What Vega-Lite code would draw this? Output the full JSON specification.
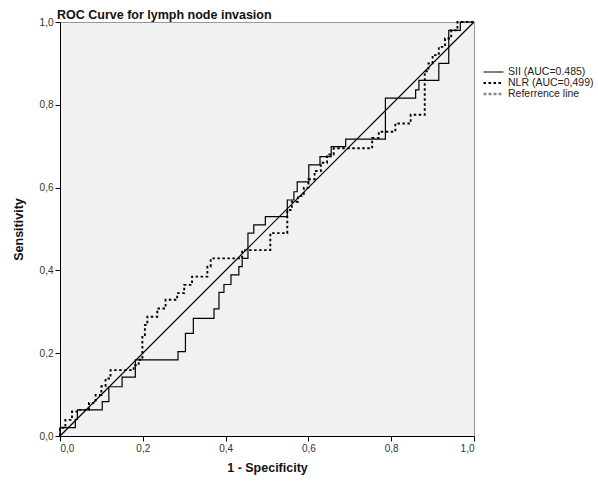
{
  "$schema": "https://vega.github.io/schema/vega-lite/v6.json",
  "width": 414,
  "height": 414,
  "autosize": {"type": "none"},
  "padding": {"left": 60, "top": 22, "right": 124, "bottom": 48},
  "background": "white",
  "title": {
    "text": "ROC Curve for lymph node invasion",
    "anchor": "start",
    "frame": "group",
    "orient": "top",
    "baseline": "alphabetic",
    "offset": -14,
    "dx": -3,
    "font": "Liberation Sans",
    "fontSize": 12.5,
    "fontWeight": "bold",
    "color": "#111"
  },
  "config": {
    "view": {"fill": "#f0f1f0", "stroke": "#999999", "strokeWidth": 1},
    "axis": {
      "grid": false,
      "domainColor": "#000",
      "domainWidth": 1,
      "tickColor": "#000",
      "tickSize": 5,
      "labelFont": "Liberation Sans",
      "labelFontSize": 10,
      "labelColor": "#333",
      "titleFont": "Liberation Sans",
      "titleFontSize": 12.5,
      "titleFontWeight": "bold",
      "titleColor": "#111"
    }
  },
  "layer": [
    {
      "data": {"values": [{"x": 0, "y": 0}, {"x": 1, "y": 1}]},
      "mark": {"type": "line", "color": "#000", "strokeWidth": 1.2},
      "encoding": {
        "x": {"field": "x", "type": "quantitative"},
        "y": {"field": "y", "type": "quantitative"}
      }
    },
    {
      "data": {"values": [
        {"s":"SII (AUC=0.485)","x":0,"y":0},{"s":"SII (AUC=0.485)","x":0,"y":0.02},{"s":"SII (AUC=0.485)","x":0.037,"y":0.02},{"s":"SII (AUC=0.485)","x":0.037,"y":0.04},{"s":"SII (AUC=0.485)","x":0.042,"y":0.04},{"s":"SII (AUC=0.485)","x":0.042,"y":0.063},{"s":"SII (AUC=0.485)","x":0.102,"y":0.063},{"s":"SII (AUC=0.485)","x":0.102,"y":0.083},{"s":"SII (AUC=0.485)","x":0.118,"y":0.083},{"s":"SII (AUC=0.485)","x":0.118,"y":0.119},{"s":"SII (AUC=0.485)","x":0.15,"y":0.119},{"s":"SII (AUC=0.485)","x":0.15,"y":0.142},{"s":"SII (AUC=0.485)","x":0.182,"y":0.142},{"s":"SII (AUC=0.485)","x":0.182,"y":0.184},{"s":"SII (AUC=0.485)","x":0.285,"y":0.184},{"s":"SII (AUC=0.485)","x":0.285,"y":0.204},{"s":"SII (AUC=0.485)","x":0.303,"y":0.204},{"s":"SII (AUC=0.485)","x":0.303,"y":0.248},{"s":"SII (AUC=0.485)","x":0.322,"y":0.248},{"s":"SII (AUC=0.485)","x":0.322,"y":0.284},{"s":"SII (AUC=0.485)","x":0.372,"y":0.284},{"s":"SII (AUC=0.485)","x":0.372,"y":0.307},{"s":"SII (AUC=0.485)","x":0.384,"y":0.307},{"s":"SII (AUC=0.485)","x":0.384,"y":0.347},{"s":"SII (AUC=0.485)","x":0.396,"y":0.347},{"s":"SII (AUC=0.485)","x":0.396,"y":0.366},{"s":"SII (AUC=0.485)","x":0.413,"y":0.366},{"s":"SII (AUC=0.485)","x":0.413,"y":0.389},{"s":"SII (AUC=0.485)","x":0.432,"y":0.389},{"s":"SII (AUC=0.485)","x":0.432,"y":0.409},{"s":"SII (AUC=0.485)","x":0.44,"y":0.409},{"s":"SII (AUC=0.485)","x":0.44,"y":0.429},{"s":"SII (AUC=0.485)","x":0.454,"y":0.429},{"s":"SII (AUC=0.485)","x":0.454,"y":0.49},{"s":"SII (AUC=0.485)","x":0.468,"y":0.49},{"s":"SII (AUC=0.485)","x":0.468,"y":0.51},{"s":"SII (AUC=0.485)","x":0.496,"y":0.51},{"s":"SII (AUC=0.485)","x":0.496,"y":0.53},{"s":"SII (AUC=0.485)","x":0.549,"y":0.53},{"s":"SII (AUC=0.485)","x":0.549,"y":0.57},{"s":"SII (AUC=0.485)","x":0.565,"y":0.57},{"s":"SII (AUC=0.485)","x":0.565,"y":0.59},{"s":"SII (AUC=0.485)","x":0.573,"y":0.59},{"s":"SII (AUC=0.485)","x":0.573,"y":0.614},{"s":"SII (AUC=0.485)","x":0.601,"y":0.614},{"s":"SII (AUC=0.485)","x":0.601,"y":0.655},{"s":"SII (AUC=0.485)","x":0.628,"y":0.655},{"s":"SII (AUC=0.485)","x":0.628,"y":0.675},{"s":"SII (AUC=0.485)","x":0.655,"y":0.675},{"s":"SII (AUC=0.485)","x":0.655,"y":0.699},{"s":"SII (AUC=0.485)","x":0.69,"y":0.699},{"s":"SII (AUC=0.485)","x":0.69,"y":0.717},{"s":"SII (AUC=0.485)","x":0.786,"y":0.717},{"s":"SII (AUC=0.485)","x":0.786,"y":0.816},{"s":"SII (AUC=0.485)","x":0.859,"y":0.816},{"s":"SII (AUC=0.485)","x":0.859,"y":0.836},{"s":"SII (AUC=0.485)","x":0.867,"y":0.836},{"s":"SII (AUC=0.485)","x":0.867,"y":0.859},{"s":"SII (AUC=0.485)","x":0.915,"y":0.859},{"s":"SII (AUC=0.485)","x":0.915,"y":0.9},{"s":"SII (AUC=0.485)","x":0.939,"y":0.9},{"s":"SII (AUC=0.485)","x":0.939,"y":0.98},{"s":"SII (AUC=0.485)","x":0.967,"y":0.98},{"s":"SII (AUC=0.485)","x":0.967,"y":1},{"s":"SII (AUC=0.485)","x":1,"y":1},
        {"s":"NLR (AUC=0,499)","x":0,"y":0},{"s":"NLR (AUC=0,499)","x":0,"y":0.02},{"s":"NLR (AUC=0,499)","x":0.013,"y":0.02},{"s":"NLR (AUC=0,499)","x":0.013,"y":0.039},{"s":"NLR (AUC=0,499)","x":0.029,"y":0.039},{"s":"NLR (AUC=0,499)","x":0.029,"y":0.059},{"s":"NLR (AUC=0,499)","x":0.045,"y":0.059},{"s":"NLR (AUC=0,499)","x":0.045,"y":0.063},{"s":"NLR (AUC=0,499)","x":0.07,"y":0.063},{"s":"NLR (AUC=0,499)","x":0.07,"y":0.08},{"s":"NLR (AUC=0,499)","x":0.086,"y":0.08},{"s":"NLR (AUC=0,499)","x":0.086,"y":0.099},{"s":"NLR (AUC=0,499)","x":0.1,"y":0.099},{"s":"NLR (AUC=0,499)","x":0.1,"y":0.12},{"s":"NLR (AUC=0,499)","x":0.11,"y":0.12},{"s":"NLR (AUC=0,499)","x":0.11,"y":0.139},{"s":"NLR (AUC=0,499)","x":0.122,"y":0.139},{"s":"NLR (AUC=0,499)","x":0.122,"y":0.159},{"s":"NLR (AUC=0,499)","x":0.178,"y":0.159},{"s":"NLR (AUC=0,499)","x":0.178,"y":0.171},{"s":"NLR (AUC=0,499)","x":0.19,"y":0.171},{"s":"NLR (AUC=0,499)","x":0.19,"y":0.184},{"s":"NLR (AUC=0,499)","x":0.199,"y":0.184},{"s":"NLR (AUC=0,499)","x":0.199,"y":0.244},{"s":"NLR (AUC=0,499)","x":0.205,"y":0.244},{"s":"NLR (AUC=0,499)","x":0.205,"y":0.268},{"s":"NLR (AUC=0,499)","x":0.211,"y":0.268},{"s":"NLR (AUC=0,499)","x":0.211,"y":0.288},{"s":"NLR (AUC=0,499)","x":0.235,"y":0.288},{"s":"NLR (AUC=0,499)","x":0.235,"y":0.308},{"s":"NLR (AUC=0,499)","x":0.255,"y":0.308},{"s":"NLR (AUC=0,499)","x":0.255,"y":0.329},{"s":"NLR (AUC=0,499)","x":0.283,"y":0.329},{"s":"NLR (AUC=0,499)","x":0.283,"y":0.345},{"s":"NLR (AUC=0,499)","x":0.3,"y":0.345},{"s":"NLR (AUC=0,499)","x":0.3,"y":0.365},{"s":"NLR (AUC=0,499)","x":0.319,"y":0.365},{"s":"NLR (AUC=0,499)","x":0.319,"y":0.385},{"s":"NLR (AUC=0,499)","x":0.356,"y":0.385},{"s":"NLR (AUC=0,499)","x":0.356,"y":0.409},{"s":"NLR (AUC=0,499)","x":0.364,"y":0.409},{"s":"NLR (AUC=0,499)","x":0.364,"y":0.429},{"s":"NLR (AUC=0,499)","x":0.44,"y":0.429},{"s":"NLR (AUC=0,499)","x":0.44,"y":0.449},{"s":"NLR (AUC=0,499)","x":0.508,"y":0.449},{"s":"NLR (AUC=0,499)","x":0.508,"y":0.49},{"s":"NLR (AUC=0,499)","x":0.549,"y":0.49},{"s":"NLR (AUC=0,499)","x":0.549,"y":0.546},{"s":"NLR (AUC=0,499)","x":0.56,"y":0.546},{"s":"NLR (AUC=0,499)","x":0.56,"y":0.566},{"s":"NLR (AUC=0,499)","x":0.575,"y":0.566},{"s":"NLR (AUC=0,499)","x":0.575,"y":0.58},{"s":"NLR (AUC=0,499)","x":0.589,"y":0.58},{"s":"NLR (AUC=0,499)","x":0.589,"y":0.6},{"s":"NLR (AUC=0,499)","x":0.6,"y":0.6},{"s":"NLR (AUC=0,499)","x":0.6,"y":0.62},{"s":"NLR (AUC=0,499)","x":0.615,"y":0.62},{"s":"NLR (AUC=0,499)","x":0.615,"y":0.64},{"s":"NLR (AUC=0,499)","x":0.63,"y":0.64},{"s":"NLR (AUC=0,499)","x":0.63,"y":0.66},{"s":"NLR (AUC=0,499)","x":0.645,"y":0.66},{"s":"NLR (AUC=0,499)","x":0.645,"y":0.68},{"s":"NLR (AUC=0,499)","x":0.661,"y":0.68},{"s":"NLR (AUC=0,499)","x":0.661,"y":0.695},{"s":"NLR (AUC=0,499)","x":0.754,"y":0.695},{"s":"NLR (AUC=0,499)","x":0.754,"y":0.72},{"s":"NLR (AUC=0,499)","x":0.77,"y":0.72},{"s":"NLR (AUC=0,499)","x":0.77,"y":0.735},{"s":"NLR (AUC=0,499)","x":0.81,"y":0.735},{"s":"NLR (AUC=0,499)","x":0.81,"y":0.755},{"s":"NLR (AUC=0,499)","x":0.847,"y":0.755},{"s":"NLR (AUC=0,499)","x":0.847,"y":0.776},{"s":"NLR (AUC=0,499)","x":0.881,"y":0.776},{"s":"NLR (AUC=0,499)","x":0.881,"y":0.881},{"s":"NLR (AUC=0,499)","x":0.89,"y":0.881},{"s":"NLR (AUC=0,499)","x":0.89,"y":0.9},{"s":"NLR (AUC=0,499)","x":0.9,"y":0.9},{"s":"NLR (AUC=0,499)","x":0.9,"y":0.92},{"s":"NLR (AUC=0,499)","x":0.915,"y":0.92},{"s":"NLR (AUC=0,499)","x":0.915,"y":0.94},{"s":"NLR (AUC=0,499)","x":0.93,"y":0.94},{"s":"NLR (AUC=0,499)","x":0.93,"y":0.96},{"s":"NLR (AUC=0,499)","x":0.945,"y":0.96},{"s":"NLR (AUC=0,499)","x":0.945,"y":0.98},{"s":"NLR (AUC=0,499)","x":0.96,"y":0.98},{"s":"NLR (AUC=0,499)","x":0.96,"y":1},{"s":"NLR (AUC=0,499)","x":1,"y":1}
      ]},
      "mark": {"type": "line", "strokeCap": "butt"},
      "encoding": {
        "x": {
          "field": "x", "type": "quantitative",
          "scale": {"domain": [0, 1], "nice": false},
          "axis": {"values": [0, 0.2, 0.4, 0.6, 0.8, 1], "labelExpr": "replace(format(datum.value, '.1f'), '.', ',')", "title": "1 - Specificity", "titlePadding": 8, "labelPadding": 2}
        },
        "y": {
          "field": "y", "type": "quantitative",
          "scale": {"domain": [0, 1], "nice": false},
          "axis": {"values": [0, 0.2, 0.4, 0.6, 0.8, 1], "labelExpr": "replace(format(datum.value, '.1f'), '.', ',')", "title": "Sensitivity", "titlePadding": 14, "labelPadding": 2}
        },
        "color": {
          "field": "s", "type": "nominal",
          "scale": {"domain": ["SII (AUC=0.485)", "NLR (AUC=0,499)", "Referrence line"], "range": ["#000000", "#000000", "#888888"]},
          "legend": {"title": null, "orient": "none", "legendX": 422, "legendY": 45, "symbolType": "stroke", "symbolSize": 400, "clipHeight": 10, "labelFont": "Liberation Sans", "labelFontSize": 10.5, "labelColor": "#222", "labelOffset": 3, "rowPadding": 0}
        },
        "strokeDash": {
          "field": "s", "type": "nominal",
          "scale": {"domain": ["SII (AUC=0.485)", "NLR (AUC=0,499)", "Referrence line"], "range": [[1, 0], [2.5, 2.5], [3, 2]]}
        },
        "strokeWidth": {
          "field": "s", "type": "nominal",
          "scale": {"domain": ["SII (AUC=0.485)", "NLR (AUC=0,499)", "Referrence line"], "range": [1.2, 2.6, 1]}
        },
        "order": {"value": null}
      }
    }
  ]
}
